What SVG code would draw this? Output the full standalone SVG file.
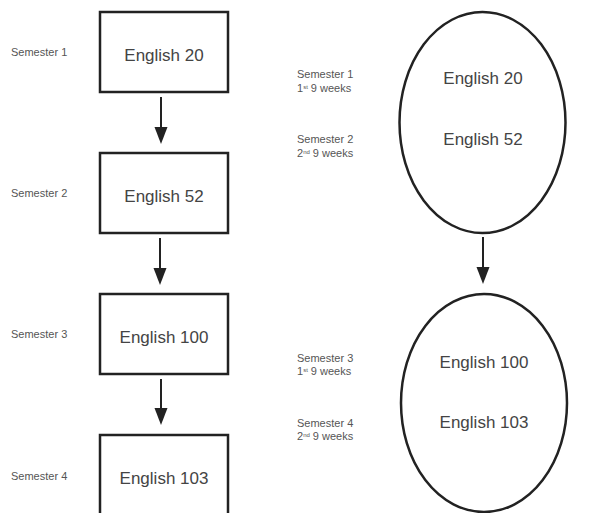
<svg xmlns="http://www.w3.org/2000/svg" width="604" height="513" viewBox="0 0 604 513">
<style>
.box{fill:#fff;stroke:#222;stroke-width:2.5}
.ell{fill:#fff;stroke:#222;stroke-width:2.5}
.main{font-family:"Liberation Sans",Arial,sans-serif;font-size:17px;fill:#444;text-anchor:middle}
.lab{font-family:"Liberation Sans",Arial,sans-serif;font-size:11px;fill:#555}
.sup{font-size:6px}
.conn line{stroke:#222;stroke-width:2}
.conn path{fill:#222}
</style>
<rect width="604" height="513" fill="#fff"/>
<g id="n1"><rect class="box" x="100" y="12" width="128" height="80"/><text class="main" x="164" y="61">English 20</text></g>
<g id="n2"><rect class="box" x="100" y="153" width="128" height="80"/><text class="main" x="164" y="202">English 52</text></g>
<g id="n3"><rect class="box" x="100" y="294" width="128" height="80"/><text class="main" x="164" y="343">English 100</text></g>
<g id="n4"><rect class="box" x="100" y="435" width="128" height="80"/><text class="main" x="164" y="484">English 103</text></g>
<g id="e1"><ellipse class="ell" cx="482.5" cy="122.5" rx="83" ry="110.5"/>
<text class="main" x="483" y="84">English 20</text><text class="main" x="483" y="145">English 52</text></g>
<g id="e2"><ellipse class="ell" cx="484" cy="403" rx="83" ry="109"/>
<text class="main" x="484" y="368">English 100</text><text class="main" x="484" y="428">English 103</text></g>
<g id="labels">
<text class="lab" x="11" y="56">Semester 1</text>
<text class="lab" x="11" y="197">Semester 2</text>
<text class="lab" x="11" y="338">Semester 3</text>
<text class="lab" x="11" y="480">Semester 4</text>
<text class="lab" x="297" y="78">Semester 1</text>
<text class="lab" x="297" y="92">1<tspan class="sup" dy="-3.5">st</tspan><tspan dy="3.5"> 9 weeks</tspan></text>
<text class="lab" x="297" y="143">Semester 2</text>
<text class="lab" x="297" y="157">2<tspan class="sup" dy="-3.5">nd</tspan><tspan dy="3.5"> 9 weeks</tspan></text>
<text class="lab" x="297" y="362">Semester 3</text>
<text class="lab" x="297" y="375">1<tspan class="sup" dy="-3.5">st</tspan><tspan dy="3.5"> 9 weeks</tspan></text>
<text class="lab" x="297" y="427">Semester 4</text>
<text class="lab" x="297" y="440">2<tspan class="sup" dy="-3.5">nd</tspan><tspan dy="3.5"> 9 weeks</tspan></text>
</g>
<g class="conn" id="connectors">
<line x1="161" y1="97" x2="161" y2="128"/><path d="M154.5,127 L167.5,127 L161,144 Z"/>
<line x1="160" y1="238" x2="160" y2="269"/><path d="M153.5,268 L166.5,268 L160,285 Z"/>
<line x1="161" y1="379" x2="161" y2="409"/><path d="M154.5,408 L167.5,408 L161,425 Z"/>
<line x1="483" y1="237" x2="483" y2="268"/><path d="M476.5,267 L489.5,267 L483,284 Z"/>
</g>
</svg>
